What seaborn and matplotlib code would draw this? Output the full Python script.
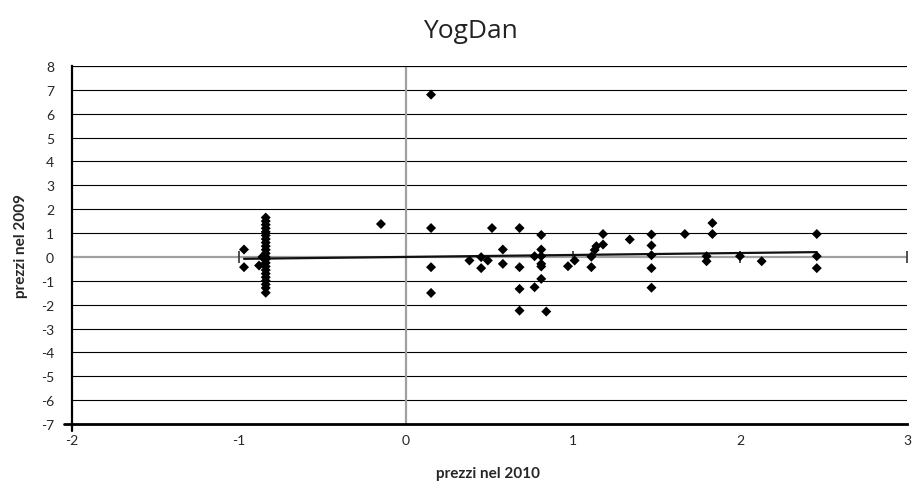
import numpy as np
import pandas as pd
import matplotlib
matplotlib.use("Agg")
import matplotlib.pyplot as plt
import seaborn as sns

# Prices: 2010 (x) vs 2009 (y)
prezzi_2010 = [
    -0.97, -0.97,
    -0.84, -0.84, -0.84, -0.84, -0.84, -0.84, -0.84, -0.84, -0.84, -0.84, -0.84,
    -0.84, -0.84, -0.84, -0.84, -0.84, -0.84, -0.84, -0.84, -0.84, -0.84, -0.84,
    -0.86, -0.88, -0.85,
    -0.15,
    0.15, 0.15, 0.15, 0.15,
    0.38, 0.45, 0.45, 0.49, 0.515, 0.58, 0.58, 0.68, 0.68, 0.68, 0.68,
    0.77, 0.77, 0.81, 0.81, 0.81, 0.81, 0.81, 0.81, 0.84,
    0.97, 1.01, 1.11, 1.11, 1.13, 1.14, 1.18, 1.18, 1.34,
    1.47, 1.47, 1.47, 1.47, 1.47,
    1.67, 1.835, 1.835, 1.80, 1.80, 2.0, 2.13, 2.46, 2.46, 2.46,
]
prezzi_2009 = [
    0.31, -0.43,
    1.65, 1.5, 1.35, 1.2, 1.05, 0.9, 0.75, 0.6, 0.45, 0.3, 0.15,
    0.0, -0.1, -0.25, -0.4, -0.55, -0.7, -0.85, -1.0, -1.15, -1.3, -1.5,
    0.0, -0.36, -0.05,
    1.38,
    6.8, 1.21, -0.43, -1.51,
    -0.15, -0.01, -0.47, -0.15, 1.21, 0.31, -0.29, 1.21, -0.43, -1.34, -2.25,
    0.03, -1.27, 0.92, 0.31, 0.03, -0.29, -0.4, -0.92, -2.29,
    -0.39, -0.15, 0.01, -0.43, 0.29, 0.45, 0.52, 0.96, 0.73,
    0.94, 0.48, 0.07, -0.47, -1.29,
    0.96, 1.42, 0.96, 0.03, -0.18, 0.03, -0.18, 0.96, 0.03, -0.47,
]

# Linear trend line coefficients
trend_slope = 0.082
trend_intercept = 0.0

x_ticks = [-2, -1, 0, 1, 2, 3]
y_ticks = list(range(-7, 9))

df = pd.DataFrame({"prezzi nel 2010": prezzi_2010, "prezzi nel 2009": prezzi_2009})

sns.set_theme(style="white")
plt.rcParams["font.family"] = ["Lato", "DejaVu Sans"]

fig = plt.figure(figsize=(9.14, 4.89), dpi=100)
ax = fig.add_axes([0.0788, 0.1309, 0.9135, 0.7321])

# horizontal grid lines at each integer
for yv in y_ticks:
    if yv in (-7, 0):
        continue
    ax.axhline(yv, color="black", lw=0.8, zorder=1)
# axes crossing through the origin
ax.axhline(0, color="#a0a0a0", lw=1.6, zorder=1)
ax.axvline(0, color="#a0a0a0", lw=1.6, zorder=1)
# tick marks along the zero line
ax.plot([t for t in x_ticks if t not in (-2, 0)], [0] * 4, ls="none",
        marker="|", markersize=8, markeredgewidth=1.2, color="#333333", zorder=2)

sns.scatterplot(data=df, x="prezzi nel 2010", y="prezzi nel 2009", ax=ax,
                marker="D", s=26, color="black", edgecolor="none", zorder=4)

x0, x1 = min(prezzi_2010), max(prezzi_2010)
ax.plot([x0, x1], [trend_intercept + trend_slope * x0, trend_intercept + trend_slope * x1],
        color="#111111", lw=1.6, zorder=3)

ax.set_xlim(-2, 3)
ax.set_ylim(-7, 8)
ax.set_xticks(x_ticks)
ax.set_yticks(y_ticks)
ax.set_xticklabels([str(t) for t in x_ticks], fontsize=10)
ax.set_yticklabels([str(t) for t in y_ticks], fontsize=10)
ax.tick_params(axis="x", length=0, pad=7)
ax.tick_params(axis="y", length=0, pad=13)

for side in ("top", "right"):
    ax.spines[side].set_visible(False)
ax.spines["left"].set_color("black")
ax.spines["left"].set_linewidth(1.6)
ax.spines["bottom"].set_color("black")
ax.spines["bottom"].set_linewidth(2.0)
ax.axhline(8, color="black", lw=0.8, zorder=1)
# small outward stubs at the lower-left corner
ax.plot([-2, -2], [-7, -7.3], color="black", lw=1.6, clip_on=False)
ax.plot([-2, -2.05], [-7, -7], color="black", lw=2.0, clip_on=False)

ax.set_xlabel("prezzi nel 2010", fontsize=11, fontweight="bold")
ax.set_ylabel("prezzi nel 2009", fontsize=11, fontweight="bold")
ax.xaxis.set_label_coords(0.498, -0.118)
ax.yaxis.set_label_coords(-0.053, 0.5)

fig.text(0.515, 0.935, "YogDan", ha="center", va="center", fontsize=19,
         family=["Open Sans", "DejaVu Sans"], color="#222222")

fig.savefig("out.png", dpi=100)
